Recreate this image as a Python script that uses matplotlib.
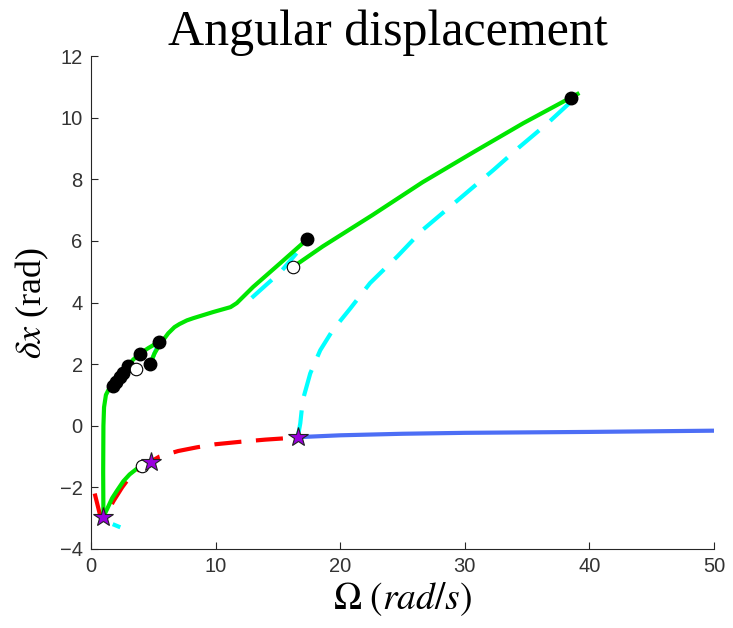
import matplotlib
matplotlib.use("Agg")
import matplotlib.pyplot as plt

plt.rcParams['mathtext.fontset'] = 'stix'

# ---- data ----
green_a_x = [1.0, 0.98, 1.0, 1.05, 1.2, 1.45, 1.75, 2.0, 2.3, 2.6, 2.95, 3.4, 3.9, 4.6, 5.45]
green_a_y = [-2.95, -1.5, 0.0, 0.6, 1.0, 1.2, 1.3, 1.42, 1.57, 1.72, 1.95, 2.15, 2.33, 2.52, 2.72]

green_b_x = [4.75, 5.1, 5.5, 6.2, 6.7, 7.1, 7.7, 8.2, 9.8, 11.2, 11.7, 13.0, 15.2, 17.35]
green_b_y = [2.0, 2.35, 2.62, 3.0, 3.2, 3.3, 3.42, 3.49, 3.69, 3.85, 3.98, 4.5, 5.28, 6.05]

green_c_x = [16.2, 18.6, 22.6, 26.6, 30.7, 34.7, 38.6, 39.2]
green_c_y = [5.15, 5.82, 6.84, 7.9, 8.88, 9.82, 10.67, 10.8]

green_d_x = [1.0, 1.3, 1.7, 2.1, 2.6, 3.1, 3.6, 4.1]
green_d_y = [-2.95, -2.7, -2.35, -2.1, -1.8, -1.58, -1.42, -1.3]

red_x = [0.3, 0.7, 1.0, 1.4, 1.8, 2.5, 3.1, 4.0, 5.5, 7.0, 8.5, 10.0, 12.0, 14.0, 16.6]
red_y = [-2.2, -2.85, -2.97, -2.75, -2.45, -2.0, -1.67, -1.35, -1.0, -0.82, -0.7, -0.6, -0.52, -0.45, -0.38]

cyan_x = [16.6, 16.8, 17.0, 17.6, 18.4, 19.4, 20.8, 22.4, 24.6, 26.6, 28.3, 30.4, 32.3, 34.4, 36.6, 38.4, 38.9]
cyan_y = [-0.37, 0.08, 0.83, 1.7, 2.45, 3.1, 3.8, 4.63, 5.5, 6.35, 6.93, 7.65, 8.3, 9.05, 9.8, 10.47, 10.7]

cyan2_x = [12.9, 14.0, 15.2, 16.5]
cyan2_y = [4.15, 4.55, 4.98, 5.6]

cyan3_x = [1.9, 2.2]
cyan3_y = [-3.22, -3.27]

cyan4_x = [4.75, 5.3]
cyan4_y = [2.0, 2.55]

blue_x = [16.6, 20.0, 25.0, 30.0, 40.0, 50.0]
blue_y = [-0.37, -0.31, -0.26, -0.23, -0.2, -0.16]

dots_x = [1.75, 2.0, 2.3, 2.6, 2.95, 3.9, 4.75, 5.45, 17.35, 38.5]
dots_y = [1.3, 1.42, 1.57, 1.72, 1.95, 2.33, 2.0, 2.72, 6.05, 10.65]

open_x = [3.6, 4.1, 16.2]
open_y = [1.85, -1.3, 5.15]

star_x = [1.0, 4.8, 16.6]
star_y = [-2.95, -1.17, -0.38]

xticks = [0, 10, 20, 30, 40, 50]
yticks = [-4, -2, 0, 2, 4, 6, 8, 10, 12]

# ---- figure ----
fig = plt.figure(figsize=(7.33, 6.28), dpi=100)
ax = fig.add_axes([0.1241, 0.1258, 0.974 - 0.1241, 0.9108 - 0.1258])

green = '#00e600'
cyan = '#00ffff'
dash = (0, (6.5, 3.5))

ax.plot(cyan2_x, cyan2_y, color=cyan, lw=3, linestyle=dash, zorder=2)
ax.plot(cyan3_x, cyan3_y, color=cyan, lw=3, zorder=2)
ax.plot(cyan4_x, cyan4_y, color=cyan, lw=3, zorder=2)
ax.plot(cyan_x, cyan_y, color=cyan, lw=3, linestyle=dash, zorder=2)
ax.plot(blue_x, blue_y, color='#4d6ef5', lw=3, zorder=2)
ax.plot(red_x, red_y, color='#ff0000', lw=3, linestyle=dash, zorder=2)
for gx, gy in [(green_a_x, green_a_y), (green_b_x, green_b_y),
               (green_c_x, green_c_y), (green_d_x, green_d_y)]:
    ax.plot(gx, gy, color=green, lw=3, zorder=3, solid_capstyle='butt',
            solid_joinstyle='round')

ax.plot(dots_x, dots_y, 'o', color='black', ms=9, zorder=4)
ax.plot(open_x, open_y, 'o', mfc='white', mec='black', mew=0.8, ms=9, zorder=4)
ax.plot(star_x, star_y, '*', mfc='#9900dd', mec='#222222', mew=0.8, ms=15, zorder=5)

ax.set_xlim(0, 50)
ax.set_ylim(-4, 12)
ax.set_xticks(xticks)
ax.set_yticks(yticks)
for s in ['top', 'right']:
    ax.spines[s].set_visible(False)
for s in ['left', 'bottom']:
    ax.spines[s].set_color('#262626')
    ax.spines[s].set_linewidth(0.8)
ax.tick_params(direction='in', length=5, width=0.8, colors='#262626',
               labelsize=14.5, pad=6)
for lab in ax.get_xticklabels() + ax.get_yticklabels():
    lab.set_fontfamily('Liberation Sans')
    lab.set_color('#333333')

ax.set_title('Angular displacement', fontfamily='Liberation Serif', fontsize=36,
             pad=7, x=0.477)
ax.set_xlabel(r'$\Omega\ (rad/s)$', fontsize=27, labelpad=3)
ax.set_ylabel(r'$\delta x$ (rad)', fontfamily='Liberation Serif', fontsize=26, labelpad=6)

fig.savefig('out.png', dpi=100)
